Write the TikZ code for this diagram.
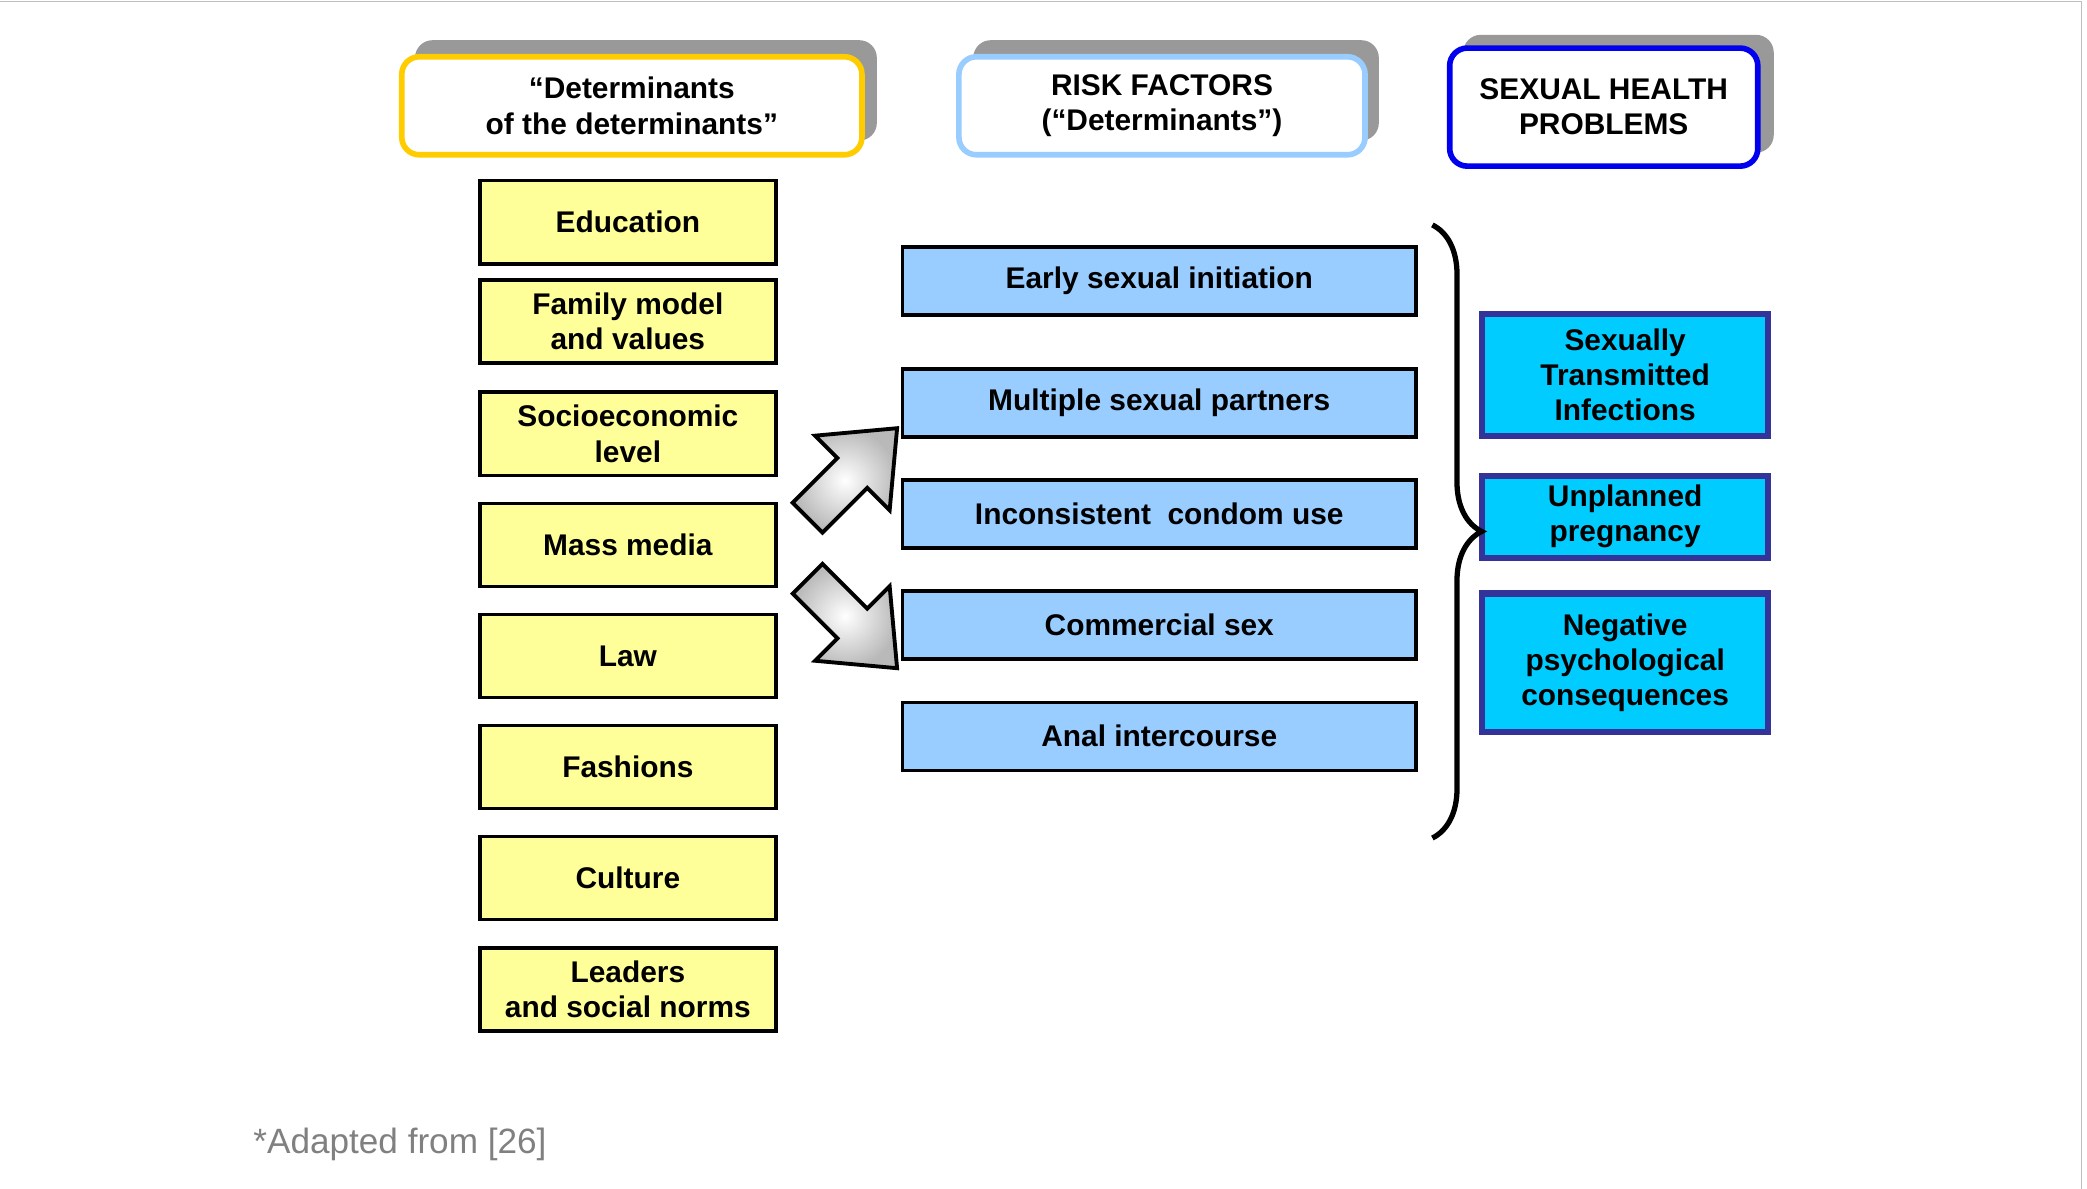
\documentclass[tikz,border=0pt]{standalone}
\usepackage{fontspec}
\setmainfont{Liberation Sans}
\usetikzlibrary{decorations.pathreplacing}
\definecolor{headyellow}{HTML}{FFCC00}
\definecolor{headblue}{HTML}{99CCFF}
\definecolor{headdark}{HTML}{0000EE}
\definecolor{detfill}{HTML}{FFFF99}
\definecolor{riskfill}{HTML}{99CCFF}
\definecolor{probfill}{HTML}{00CCFF}
\definecolor{probline}{HTML}{333399}
\begin{document}
\begin{tikzpicture}[x=0.013387cm,y=-0.013387cm,
  txt/.style={font=\fontsize{8.5}{10}\selectfont\bfseries,align=center},
  head/.style={txt,draw,line width=1.6pt,rounded corners=5pt,fill=white,inner sep=0pt},
  shadow/.style={fill=gray!80,rounded corners=5pt},
  det/.style={txt,draw,line width=1pt,fill=detfill,minimum width=2.96cm,minimum height=0.83cm,inner sep=0pt},
  risk/.style={txt,draw,line width=1pt,fill=riskfill,minimum width=5.13cm,minimum height=0.68cm,inner sep=0pt},
  prob/.style={txt,draw=probline,line width=1.8pt,fill=probfill,minimum width=2.86cm,inner sep=0pt},
  blockarrow/.style={draw,line width=1.1pt,inner color=white,outer color=gray!55}]
\useasboundingbox (0,0) rectangle (1559,888);
\draw[gray!50] (0,1) -- (1555,1) -- (1555,888);
% headers
\fill[shadow] (310,30) rectangle (655,105);
\fill[shadow] (727,30) rectangle (1030,105);
\fill[shadow] (1093,26) rectangle (1325,114);
\node[head,draw=headyellow,minimum width=4.6cm,minimum height=0.98cm] (h1) at (472,79) {``Determinants\\of the determinants''};
\node[head,draw=headblue,minimum width=4.06cm,minimum height=0.98cm] (h2) at (868,79) {RISK FACTORS\\(``Determinants'')};
\node[head,draw=headdark,minimum width=3.08cm,minimum height=1.18cm] (h3) at (1198,80) {SEXUAL HEALTH\\PROBLEMS};
% determinants of the determinants
\node[det] (edu) at (469,166) {Education};
\node[det] (fam) at (469,240) {Family model\\and values};
\node[det] (soc) at (469,324) {Socioeconomic\\level};
\node[det] (mas) at (469,407) {Mass media};
\node[det] (law) at (469,490) {Law};
\node[det] (fas) at (469,573) {Fashions};
\node[det] (cul) at (469,656) {Culture};
\node[det] (lea) at (469,739) {Leaders\\and social norms};
% risk factors
\node[risk] (ear) at (866,210) {Early sexual initiation};
\node[risk] (mul) at (866,301) {Multiple sexual partners};
\node[risk] (inc) at (866,384) {Inconsistent\ \ condom use};
\node[risk] (com) at (866,467) {Commercial sex};
\node[risk] (ana) at (866,550) {Anal intercourse};
% problems
\node[prob,minimum height=1.22cm] (sti) at (1214,280) {Sexually\\Transmitted\\Infections};
\node[prob,minimum height=0.82cm] (unp) at (1214,386) {Unplanned\\pregnancy};
\node[prob,minimum height=1.38cm] (neg) at (1214,495) {Negative\\psychological\\consequences};
% brace
\coordinate (bt) at (1070,168);
\coordinate (bb) at (1070,626);
\draw[line width=1.5pt,decorate,decoration={brace,amplitude=14pt}] (bt) -- (bb);
% arrows
\begin{scope}[shift={(633,357)},rotate=45]
\filldraw[blockarrow] (-16pt,-6pt) -- (2pt,-6pt) -- (2pt,-15pt) -- (20pt,0pt) -- (2pt,15pt) -- (2pt,6pt) -- (-16pt,6pt) -- cycle;
\end{scope}
\begin{scope}[shift={(633,462)},rotate=-45]
\filldraw[blockarrow] (-16pt,-6pt) -- (2pt,-6pt) -- (2pt,-15pt) -- (20pt,0pt) -- (2pt,15pt) -- (2pt,6pt) -- (-16pt,6pt) -- cycle;
\end{scope}
\node[anchor=west,text=gray,font=\fontsize{10}{12}\selectfont] (src) at (180,855) {*Adapted from [26]};
\end{tikzpicture}
\end{document}
